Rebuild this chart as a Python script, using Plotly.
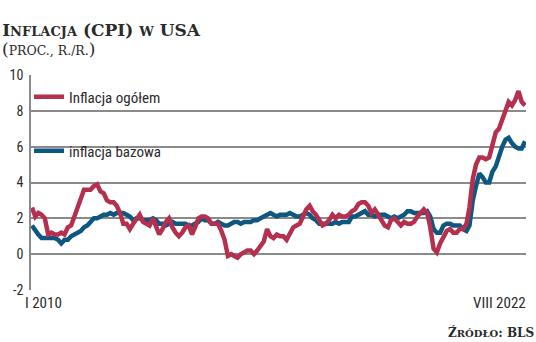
import pandas as pd
import plotly.graph_objects as go

# Monthly observations, I 2010 .. VIII 2022 (proc., r./r.)
months = pd.date_range("2010-01-01", "2022-08-01", freq="MS")

headline = [
    2.6, 2.1, 2.3, 2.2, 2.0, 1.1, 1.2, 1.1, 1.1, 1.2, 1.1, 1.5,
    1.6, 2.1, 2.7, 3.2, 3.6, 3.6, 3.6, 3.8, 3.9, 3.5, 3.4, 3.0,
    2.9, 2.9, 2.7, 2.3, 1.7, 1.7, 1.4, 1.7, 2.0, 2.2, 1.8, 1.7,
    1.6, 2.0, 1.5, 1.1, 1.4, 1.8, 2.0, 1.5, 1.2, 1.0, 1.2, 1.5,
    1.6, 1.1, 1.5, 2.0, 2.1, 2.1, 2.0, 1.7, 1.7, 1.7, 1.3, 0.8,
    -0.1, 0.0, -0.1, -0.2, 0.0, 0.1, 0.2, 0.2, 0.0, 0.2, 0.5, 0.7,
    1.4, 1.0, 0.9, 1.1, 1.0, 1.0, 0.8, 1.1, 1.5, 1.6, 1.7, 2.1,
    2.5, 2.7, 2.4, 2.2, 1.9, 1.6, 1.7, 1.9, 2.2, 2.0, 2.2, 2.1,
    2.1, 2.2, 2.4, 2.5, 2.8, 2.9, 2.9, 2.7, 2.3, 2.5, 2.2, 1.9,
    1.6, 1.5, 1.9, 2.0, 1.8, 1.6, 1.8, 1.7, 1.7, 1.8, 2.1, 2.3,
    2.5, 2.3, 1.5, 0.3, 0.1, 0.6, 1.0, 1.3, 1.4, 1.2, 1.2, 1.4,
    1.4, 1.7, 2.6, 4.2, 5.0, 5.4, 5.4, 5.3, 5.4, 6.2, 6.8, 7.0,
    7.5, 7.9, 8.5, 8.3, 8.6, 9.1, 8.5, 8.3,
]

core = [
    1.6, 1.3, 1.1, 0.9, 0.9, 0.9, 0.9, 0.9, 0.8, 0.6, 0.8, 0.8,
    1.0, 1.1, 1.2, 1.3, 1.5, 1.6, 1.8, 2.0, 2.0, 2.1, 2.2, 2.2,
    2.3, 2.2, 2.3, 2.3, 2.3, 2.2, 2.1, 1.9, 2.0, 2.0, 1.9, 1.9,
    1.9, 2.0, 1.9, 1.7, 1.7, 1.6, 1.7, 1.8, 1.7, 1.7, 1.7, 1.7,
    1.6, 1.6, 1.7, 1.8, 2.0, 1.9, 1.9, 1.7, 1.7, 1.8, 1.7, 1.6,
    1.6, 1.7, 1.8, 1.8, 1.7, 1.8, 1.8, 1.8, 1.9, 1.9, 2.0, 2.1,
    2.2, 2.3, 2.2, 2.1, 2.2, 2.2, 2.2, 2.3, 2.2, 2.1, 2.1, 2.2,
    2.3, 2.2, 2.0, 1.9, 1.7, 1.7, 1.7, 1.7, 1.7, 1.8, 1.7, 1.8,
    1.8, 1.8, 2.1, 2.1, 2.2, 2.3, 2.4, 2.2, 2.2, 2.1, 2.2, 2.2,
    2.2, 2.1, 2.0, 2.1, 2.0, 2.1, 2.2, 2.4, 2.4, 2.3, 2.3, 2.3,
    2.3, 2.4, 2.1, 1.4, 1.2, 1.2, 1.6, 1.7, 1.7, 1.6, 1.6, 1.6,
    1.4, 1.3, 1.6, 3.0, 3.8, 4.5, 4.3, 4.0, 4.0, 4.6, 4.9, 5.5,
    6.0, 6.4, 6.5, 6.2, 6.0, 5.9, 5.9, 6.3,
]

y_ticks = [-2, 0, 2, 4, 6, 8, 10]
x_labels = ["I 2010", "VIII 2022"]
series_names = ["Inflacja ogółem", "inflacja bazowa"]

RED = "#b5304f"
BLUE = "#0d5780"
GRID = "#8a8a8a"
TXT = "#2b2b2b"
SANS = "Liberation Sans Narrow, Roboto Condensed, Roboto, sans-serif"
SERIF = "DejaVu Serif, Liberation Serif, serif"

fig = go.Figure()
fig.add_trace(go.Scatter(
    x=months, y=core, mode="lines", name=series_names[1],
    line=dict(color=BLUE, width=4.5), legend="legend2",
))
fig.add_trace(go.Scatter(
    x=months, y=headline, mode="lines", name=series_names[0],
    line=dict(color=RED, width=4.5), legend="legend",
))

pad = pd.Timedelta(days=9)
fig.update_xaxes(
    range=[months[0] - pad, months[-1] + pad],
    showgrid=False, showticklabels=False, zeroline=False,
    showline=False, ticks="",
)
fig.update_yaxes(
    range=[-2, 10], tickvals=y_ticks, ticktext=[str(v) for v in y_ticks],
    showgrid=True, gridcolor=GRID, gridwidth=1.5, zeroline=False,
    showline=True, linecolor=GRID, linewidth=1.5, ticks="",
    tickfont=dict(family=SANS, size=14, color=TXT), ticklabelstandoff=3,
)

legend_common = dict(
    xanchor="left", yanchor="middle", bgcolor="rgba(0,0,0,0)",
    font=dict(family=SANS, size=15, color=TXT), borderwidth=0,
    itemwidth=30,
)
fig.update_layout(
    width=536, height=342,
    margin=dict(l=24, r=10, t=75, b=52),
    paper_bgcolor="white", plot_bgcolor="white",
    showlegend=True,
    legend=dict(x=-0.004, y=0.898, **legend_common),
    legend2=dict(x=-0.004, y=0.647, **legend_common),
    title=dict(
        text="I<span style='font-size:13px'>NFLACJA</span> (CPI) "
             "<span style='font-size:13px'>W</span> USA",
        font=dict(family=SERIF, size=17, color=TXT, weight="bold"),
        xref="container", yref="container", x=0.004, y=1 - 30 / 342,
        xanchor="left", yanchor="middle",
    ),
)

def py(pix):
    # convert a pixel row of the page into plot-paper coordinates
    return (290 - pix) / 215

fig.add_annotation(
    text="(<span style='font-size:12.5px'>PROC., R./R.</span>)",
    xref="paper", yref="paper", x=-24 / 502, y=py(49),
    xanchor="left", yanchor="middle", showarrow=False, xshift=-7,
    font=dict(family=SERIF, size=17, color=TXT),
)
fig.add_annotation(
    text=x_labels[0], xref="x", yref="paper", x=months[0], y=py(303),
    xanchor="left", yanchor="middle", showarrow=False, xshift=-9,
    font=dict(family=SANS, size=15, color=TXT),
)
fig.add_annotation(
    text=x_labels[1], xref="x", yref="paper", x=months[-1], y=py(303),
    xanchor="right", yanchor="middle", showarrow=False, xshift=3,
    font=dict(family=SANS, size=15, color=TXT),
)
fig.add_annotation(
    text="Ź<span style='font-size:10px'>RÓDŁO</span>: BLS",
    xref="paper", yref="paper", x=1 + 10 / 502, y=py(332),
    xanchor="right", yanchor="middle", showarrow=False,
    font=dict(family=SERIF, size=12, color=TXT, weight="bold"),
)

fig.write_html("out.html")
